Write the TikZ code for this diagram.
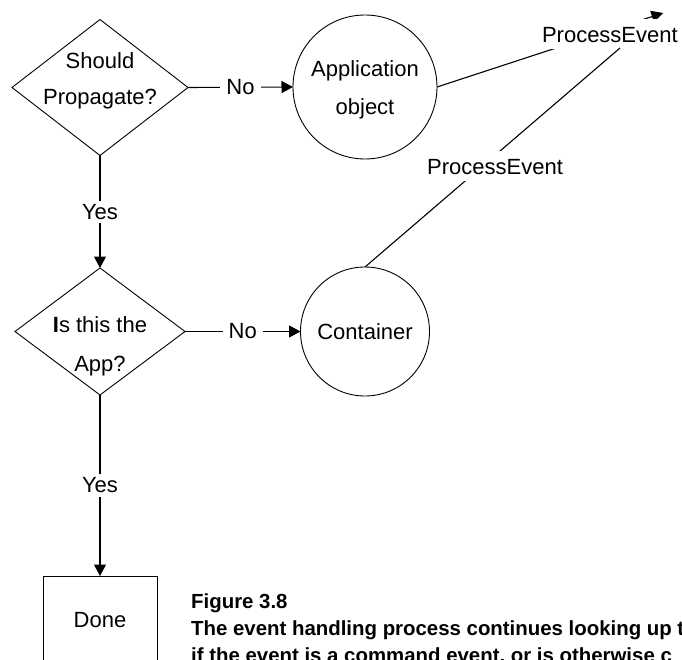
\documentclass[tikz,border=0pt]{standalone}
\usepackage{fontspec}
\setmainfont{Liberation Sans}
\usetikzlibrary{shapes.geometric,arrows.meta}
\begin{document}
\begin{tikzpicture}[x=1pt,y=-1pt,
  dec/.style={draw, line width=0.9pt, shape=diamond, inner sep=0pt, outer sep=0pt},
  circ/.style={draw, line width=0.9pt, circle, inner sep=0pt, outer sep=0pt, font=\fontsize{22}{22}\selectfont},
  boxnode/.style={draw, line width=0.9pt, rectangle, inner sep=0pt, outer sep=0pt, font=\fontsize{22}{22}\selectfont},
  txt/.style={align=center, inner sep=0pt},
  conn/.style={line width=1.1pt, -{Triangle[length=11.5pt,width=12pt]}},
  plainline/.style={line width=1.1pt},
  gap/.style={fill=white, inner xsep=6pt, inner ysep=3.5pt, font=\fontsize{22}{22}\selectfont},
  pe/.style={fill=white, inner xsep=4pt, inner ysep=4pt, text height=20pt, text depth=2pt, font=\fontsize{22}{22}\selectfont},
  capt/.style={anchor=base west, inner sep=0pt, font=\fontsize{20.4}{20.4}\selectfont\bfseries}
]
\useasboundingbox (0,0) rectangle (682,660);
\clip (0,0) rectangle (682,660);

% shapes
\node[dec, minimum width=176pt, minimum height=136pt] (d1) at (100,87.5) {};
\node[txt, font=\fontsize{22}{36}\selectfont] (t1) at (100,80.8) {Should\\Propagate?};
\node[circ, minimum size=144pt] (app) at (365,87) {};
\node[txt, font=\fontsize{22}{37.5}\selectfont] (t2) at (365,89.6) {Application\\object};
\node[dec, minimum width=170pt, minimum height=127pt] (d2) at (100,331.5) {};
\node[txt, font=\fontsize{22}{39}\selectfont] (t3) at (100,346.8) {{\bfseries I}s this the\\App?};
\node[circ, minimum size=129pt] (cont) at (365,331.5) {Container};
\node[boxnode, minimum width=114pt, minimum height=88pt] (done) at (100,620) {Done};

% connectors
\draw[conn] (d1.east) -- node[gap] (no1) {No} (app.west);
\draw[conn] (d1.south) -- node[gap] (yes1) {Yes} (d2.north);
\draw[conn] (d2.east) -- node[gap] (no2) {No} (cont.west);
\draw[conn] (d2.south) -- node[gap] (yes2) {Yes} (done.north);

\coordinate (tip) at (663,13);
\draw[conn] (app.east) -- node[pe, pos=0.765, yshift=-3.5pt] (pe1) {ProcessEvent} (tip);
\coordinate (join) at (620,48);
\draw[plainline] (cont.north) -- node[pe, pos=0.51, yshift=-10.6pt] (pe2) {ProcessEvent} (join);

% caption
\node[capt] (fig) at (191,608.5) {Figure 3.8};
\node[capt] (cap1) at (191,635.5) {The event handling process continues looking up t};
\node[capt] (cap2) at (191,662) {if the event is a command event, or is otherwise c};
\end{tikzpicture}
\end{document}
